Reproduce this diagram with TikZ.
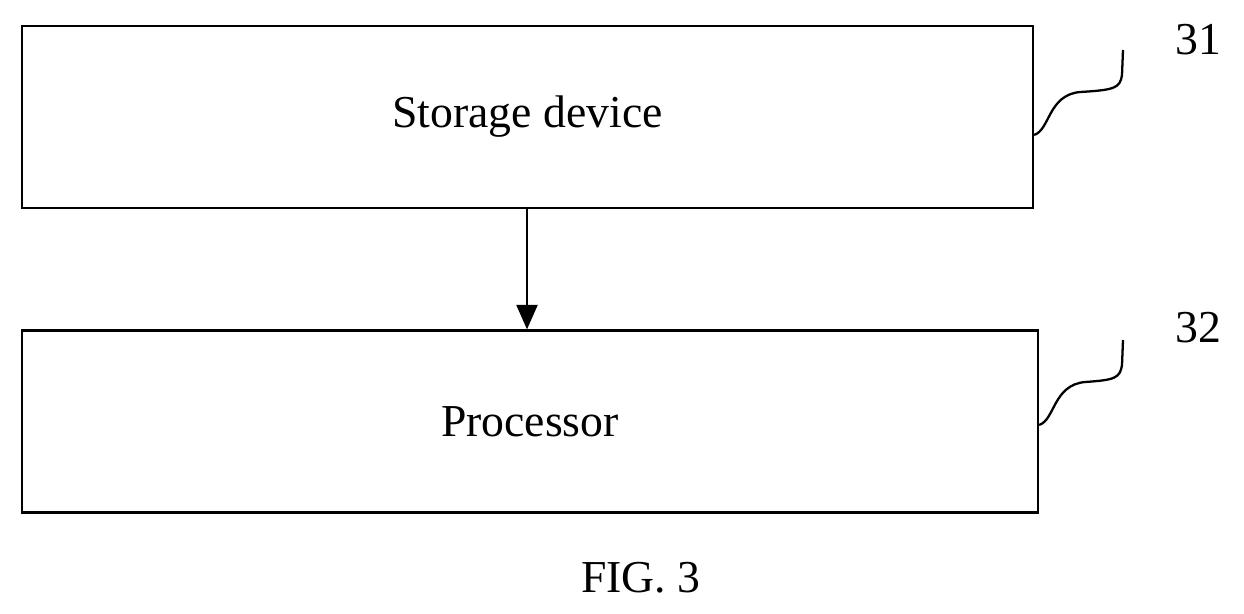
\documentclass[tikz,border=0pt]{standalone}
\usepackage{fontspec}
\setmainfont{Liberation Serif}
\usetikzlibrary{arrows.meta, positioning}
\begin{document}
\begin{tikzpicture}[x=0.02cm, y=-0.02cm,
  box/.style={draw, line width=1.3pt, minimum width=20.22cm, minimum height=3.64cm, font=\fontsize{26}{30}\selectfont},
  lbl/.style={font=\fontsize{26}{30}\selectfont},
  squig/.style={line width=1.3pt}]
  \useasboundingbox (0,0) rectangle (1244,613);
  % boxes
  \node[box] (storage) at (527.5,117) {Storage device};
  \node[box, minimum width=20.32cm] (proc) at (530,421.5) {Processor};
  \draw[-{Triangle[length=14pt, width=12pt]}, line width=1.3pt] (storage.south -| 527,0) -- (proc.north -| 527,0);
  % reference labels
  \node[lbl] (n31) at (1198,40) {31};
  \node[lbl] (n32) at (1198,328) {32};
  \coordinate (s31) at (1123,50);
  \coordinate (s32) at (1123,340);
  \draw[squig] (storage.east |- 0,135) .. controls (1050,130) and (1048,95) .. (1080,92)
     .. controls (1115,90) and (1120,88) .. (1122,75) -- (s31);
  \draw[squig] (proc.east |- 0,425) .. controls (1055,420) and (1053,385) .. (1085,382)
     .. controls (1115,380) and (1120,378) .. (1122,365) -- (s32);
  % caption
  \node[lbl] (fig) at (641,578) {FIG. 3};
\end{tikzpicture}
\end{document}
